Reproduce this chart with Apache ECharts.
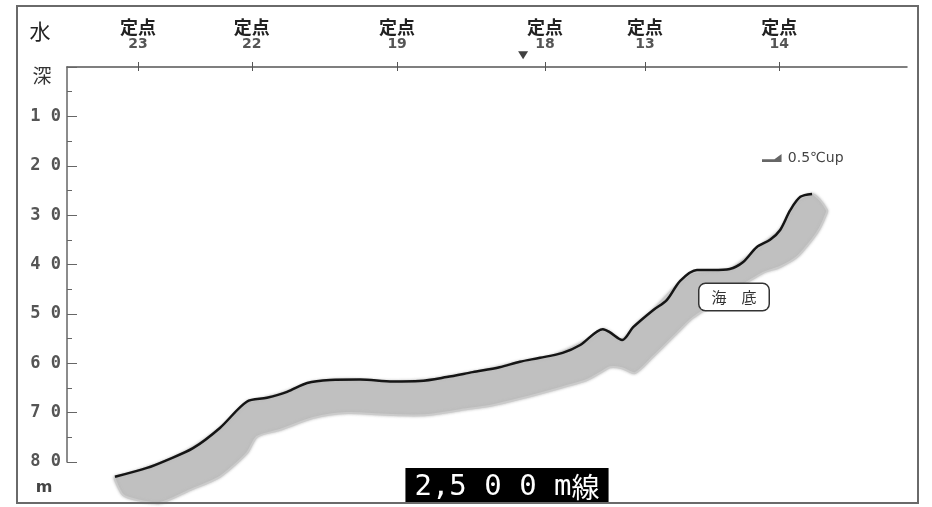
<!DOCTYPE html>
<html>
<head>
<meta charset="utf-8">
<script src="https://cdn.jsdelivr.net/npm/echarts@6/dist/echarts.min.js"></script>
<style>
  html, body { margin: 0; padding: 0; background: #fff; }
  #chart { width: 932px; height: 507px; }
</style>
</head>
<body>
<div id="chart"></div>
<script>
// Fixed observation stations along the 2,500 m line (distance units along the section)
const stationNames = ['23', '22', '19', '18', '13', '14'];
const stationDistance = [8.45, 22.0, 39.3, 56.9, 68.8, 84.8];

// Depth scale (m)
const depthMax = 80;
const depthStep = 10;

// Seabed profile
const seabedDistance = [5.71, 9.52, 11.9, 15.0, 18.2, 21.4, 23.8, 26.2, 28.6, 31.3, 34.9, 38.8, 42.0, 45.2, 48.3, 51.5, 53.9, 56.3, 59.0, 61.1, 63.8, 64.6, 66.1, 67.4, 69.8, 71.4, 73.0, 75.0, 76.9, 78.9, 80.5, 82.1, 83.7, 84.9, 86.1, 87.3, 88.7];
const seabedDepth    = [83.0, 81.2, 79.6, 77.2, 73.1, 67.8, 67.0, 65.8, 64.0, 63.4, 63.3, 63.7, 63.6, 62.8, 61.8, 60.8, 59.7, 58.9, 57.9, 56.3, 53.1, 53.7, 55.3, 52.7, 49.2, 47.2, 43.3, 41.1, 41.1, 40.9, 39.5, 36.5, 35.0, 33.0, 29.0, 26.3, 25.7];

// Water 0.5℃ warmer: upper and lower depth of the layer
const bandDistance    = [5.71, 6.67, 8.33, 11.07, 14.64, 18.21, 21.43, 22.62, 25.36, 29.29, 33.33, 38.81, 42.86, 46.79, 50.71, 53.93, 57.86, 61.90, 63.81, 64.64, 66.07, 67.62, 69.76, 72.62, 74.52, 78.93, 82.86, 84.88, 86.90, 88.69, 89.64, 90.48];
const bandTopDepth    = [83.0, 82.6, 81.8, 80.2, 77.4, 73.1, 67.8, 67.4, 66.2, 63.8, 63.3, 63.7, 63.4, 62.3, 61.0, 59.7, 58.4, 55.3, 53.1, 53.7, 55.3, 52.3, 49.2, 44.2, 41.6, 40.9, 35.8, 33.0, 27.1, 25.7, 26.9, 29.0];
const bandBottomDepth = [83.6, 86.7, 87.7, 88.3, 85.7, 83.0, 78.2, 74.9, 73.5, 71.1, 70.1, 70.5, 70.5, 69.5, 68.5, 67.2, 65.4, 63.4, 61.6, 60.8, 61.0, 62.0, 58.7, 53.9, 50.8, 45.8, 41.7, 40.5, 38.5, 35.0, 32.6, 29.4];

// Ship position marker on the section
const markerDistance = 54.3;
const markerDepth = -2.4;

const seabedData = seabedDistance.map((d, i) => [d, seabedDepth[i]]);
const bandData = bandDistance.map((d, i) => [d, bandTopDepth[i], bandBottomDepth[i]]);

const cjk = '"Noto Sans CJK JP", sans-serif';
const chart = echarts.init(document.getElementById('chart'), null, { renderer: 'canvas' });

chart.setOption({
  animation: false,
  backgroundColor: '#fff',
  grid: { left: 67, right: 25, top: 67, bottom: 45 },
  legend: {
    left: 757, top: 146,
    itemWidth: 22, itemHeight: 8, itemGap: 4,
    selectedMode: false,
    textStyle: { fontSize: 14, color: '#444', fontFamily: 'DejaVu Sans' },
    data: [{ name: '0.5℃up', icon: 'path://M0,6L14,6L22,0L22,9L0,9Z' }]
  },
  xAxis: [
    { type: 'value', min: 0, max: 100, show: false },
    {
      type: 'value', min: 0, max: 100, position: 'top',
      axisLine: { show: true, onZero: false, lineStyle: { color: '#555', width: 1.5 } },
      axisTick: { show: true, customValues: stationDistance, length: 5, lineStyle: { color: '#555' } },
      splitLine: { show: false },
      axisLabel: {
        customValues: stationDistance,
        margin: 16,
        formatter: v => {
          const i = stationDistance.indexOf(v);
          return '{a|定点}\n{b|' + stationNames[i] + '}';
        },
        rich: {
          a: { fontSize: 18, fontWeight: 'bold', color: '#222', lineHeight: 19, fontFamily: cjk },
          b: { fontSize: 14, fontWeight: 'bold', color: '#555', lineHeight: 14, fontFamily: 'DejaVu Sans' }
        }
      }
    },
    {
      type: 'value', min: 0, max: 100, position: 'top',
      axisLine: { show: false, onZero: false },
      axisTick: { show: true, inside: true, customValues: stationDistance, length: 4, lineStyle: { color: '#555' } },
      axisLabel: { show: false },
      splitLine: { show: false }
    }
  ],
  yAxis: {
    type: 'value', min: 0, max: depthMax, interval: depthStep, inverse: true,
    axisLine: { show: true, onZero: false, lineStyle: { color: '#666', width: 1.5 } },
    axisTick: { show: true, inside: true, length: 10, lineStyle: { color: '#666' } },
    minorTick: { show: true, splitNumber: 2, length: 5, lineStyle: { color: '#666' } },
    splitLine: { show: false },
    axisLabel: {
      margin: 6,
      color: '#555', fontSize: 17, fontWeight: 'bold', fontFamily: 'DejaVu Sans Mono',
      formatter: v => (v === 0 ? '' : String(v).split('').join(' '))
    }
  },
  series: [
    {
      name: '0.5℃up',
      type: 'custom',
      xAxisIndex: 0, yAxisIndex: 0,
      clip: false,
      itemStyle: { color: '#666' },
      encode: { x: 0, y: [1, 2] },
      data: bandData,
      renderItem: (params, api) => {
        if (params.dataIndex !== 0) return null;
        const upper = bandData.map(p => api.coord([p[0], p[1]]));
        const lower = bandData.map(p => api.coord([p[0], p[2]])).reverse();
        return {
          type: 'polygon',
          shape: { points: upper.concat(lower), smooth: 0.25 },
          style: { fill: '#c0c0c0', stroke: '#cbcbcb', lineWidth: 2, shadowBlur: 3, shadowColor: 'rgba(180,180,180,0.8)' }
        };
      },
      z: 2
    },
    {
      name: '海底',
      type: 'line',
      xAxisIndex: 0, yAxisIndex: 0,
      clip: false,
      smooth: 0.3,
      symbol: 'none',
      lineStyle: { color: '#151515', width: 2.5 },
      data: seabedData,
      z: 3
    },
    {
      name: 'marker',
      type: 'scatter',
      xAxisIndex: 0, yAxisIndex: 0,
      clip: false,
      symbol: 'triangle',
      symbolRotate: 180,
      symbolSize: [10, 8],
      itemStyle: { color: '#111' },
      data: [[markerDistance, markerDepth]],
      z: 4
    }
  ],
  graphic: [
    {
      type: 'rect', z: 10, silent: true,
      shape: { x: 17, y: 6, width: 901, height: 497 },
      style: { fill: 'none', stroke: '#6a6a6a', lineWidth: 2 }
    },
    { type: 'text', x: 40, y: 31, z: 10, style: { text: '水', fill: '#222', font: '21px ' + cjk, align: 'center', verticalAlign: 'middle' } },
    { type: 'text', x: 42, y: 76, z: 10, style: { text: '深', fill: '#333', font: '19px ' + cjk, align: 'center', verticalAlign: 'middle' } },
    { type: 'text', x: 44, y: 488, z: 10, style: { text: 'm', font: 'bold 16px "DejaVu Sans"', fill: '#444', align: 'center', verticalAlign: 'middle' } },
    {
      type: 'text', x: 734, y: 297, z: 10,
      style: {
        text: '海　底', font: '15px ' + cjk, fill: '#333', align: 'center', verticalAlign: 'middle',
        backgroundColor: '#fff', borderColor: '#333', borderWidth: 1.5, borderRadius: 6, padding: [6, 12, 5, 12]
      }
    },
    {
      type: 'text', x: 507, y: 504, z: 9,
      style: {
        text: '{d|2,5 0 0 m}{k|線}', align: 'center', verticalAlign: 'bottom',
        backgroundColor: '#000', padding: [3, 9, 1, 9],
        rich: {
          d: { font: '29px "DejaVu Sans Mono"', fill: '#fff', lineHeight: 32 },
          k: { font: '28px ' + cjk, fill: '#fff', lineHeight: 32 }
        }
      }
    }
  ]
});
</script>
</body>
</html>
